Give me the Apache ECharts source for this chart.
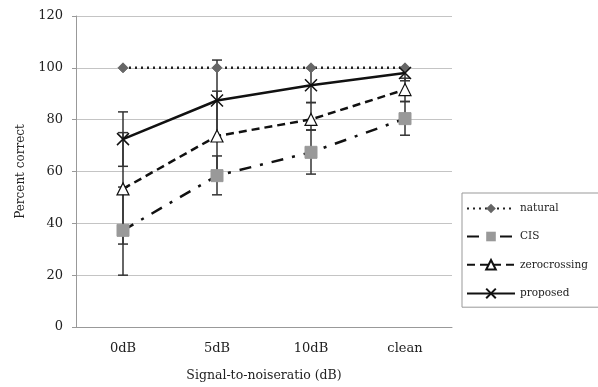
<!DOCTYPE html>
<html><head><meta charset="utf-8">
<script src="https://cdn.jsdelivr.net/npm/echarts@6/dist/echarts.min.js"></script>
<style>html,body{margin:0;padding:0;background:#fff}#c{width:598px;height:387px}</style>
</head><body><div id="c"></div>
<script>
var categories = ['0dB', '5dB', '10dB', 'clean'];
var natural = [100, 100, 100, 100];
var cis = [37.3, 58.4, 67.4, 80.4];
var zerocrossing = [53.3, 73.7, 80.1, 91.6];
var proposed = [72.5, 87.4, 93.3, 98.0];
var cisErr = [[20, 54], [51, 66], [59, 76], [74, 87]];
var zeroErr = [[32, 75], [57, 91], [76, 86.6], [87, 96]];
var propErr = [[62, 83], [72, 103], [86.6, 99.8], [95, 100]];
var yTicks = [0, 20, 40, 60, 80, 100, 120];

var serif = 'DejaVu Serif';
function errSeries(errs) {
  return {
    type: 'custom', silent: true, z: 1, legendHoverLink: false,
    data: errs.map(function (e, i) { return [i, e[0], e[1]]; }),
    renderItem: function (params, api) {
      var lo = api.coord([api.value(0), api.value(1)]);
      var hi = api.coord([api.value(0), api.value(2)]);
      var w = 5;
      var st = { stroke: '#333', lineWidth: 1.5 };
      return { type: 'group', children: [
        { type: 'line', shape: { x1: lo[0], y1: lo[1], x2: hi[0], y2: hi[1] }, style: st },
        { type: 'line', shape: { x1: lo[0] - w, y1: lo[1], x2: lo[0] + w, y2: lo[1] }, style: st },
        { type: 'line', shape: { x1: hi[0] - w, y1: hi[1], x2: hi[0] + w, y2: hi[1] }, style: st }
      ] };
    }
  };
}
var chart = echarts.init(document.getElementById('c'));
chart.setOption({
  animation: false,
  backgroundColor: '#fff',
  grid: { left: 76, right: 146, top: 16, bottom: 58 },
  legend: {
    orient: 'vertical', left: 462, top: 193,
    padding: [10, 14, 8, 4],
    borderColor: '#999', borderWidth: 1,
    itemWidth: 48, itemHeight: 12, itemGap: 17,
    textStyle: { fontFamily: serif, fontSize: 10.5, color: '#222' },
    data: ['natural', 'CIS', 'zerocrossing', 'proposed']
  },
  xAxis: {
    type: 'category', data: categories, boundaryGap: true,
    name: 'Signal-to-noiseratio (dB)', nameLocation: 'middle', nameGap: 42,
    nameTextStyle: { fontFamily: serif, fontSize: 12.5, color: '#222' },
    axisLine: { lineStyle: { color: '#999' } },
    axisTick: { length: 4, lineStyle: { color: '#999' } },
    axisLabel: { fontFamily: serif, fontSize: 13, color: '#222', margin: 15 }
  },
  yAxis: {
    type: 'value', min: 0, max: 120, interval: 20,
    name: 'Percent correct', nameLocation: 'middle', nameGap: 47,
    nameTextStyle: { fontFamily: serif, fontSize: 12, color: '#222' },
    axisLine: { show: true, lineStyle: { color: '#999' } },
    axisTick: { show: true, length: 4, lineStyle: { color: '#999' } },
    axisLabel: { fontFamily: serif, fontSize: 13, color: '#222', margin: 13,
      formatter: function (v) { return yTicks.indexOf(v) >= 0 ? String(v) : ''; } },
    splitLine: { lineStyle: { color: '#c4c4c4', width: 1 } }
  },
  series: [
    errSeries(propErr), errSeries(zeroErr), errSeries(cisErr),
    { name: 'natural', type: 'line', data: natural, z: 3,
      symbol: 'diamond', symbolSize: 10,
      lineStyle: { color: '#222', width: 2.5, type: [2, 4] },
      itemStyle: { color: '#666', borderColor: '#666' } },
    { name: 'CIS', type: 'line', data: cis, z: 3,
      symbol: 'rect', symbolSize: 12,
      lineStyle: { color: '#111', width: 2.5, type: [12, 9, 3, 9] },
      itemStyle: { color: '#999', borderColor: '#999' } },
    { name: 'zerocrossing', type: 'line', data: zerocrossing, z: 3,
      symbol: 'triangle', symbolSize: 12,
      lineStyle: { color: '#111', width: 2.5, type: [8, 5] },
      itemStyle: { color: '#fff', borderColor: '#111', borderWidth: 1.2 } },
    { name: 'proposed', type: 'line', data: proposed, z: 3,
      symbol: 'path://M0,0L10,10M10,0L0,10', symbolSize: 12,
      lineStyle: { color: '#111', width: 2.5 },
      itemStyle: { color: '#111', borderColor: '#111', borderWidth: 1.5 } }
  ]
});
</script></body></html>
